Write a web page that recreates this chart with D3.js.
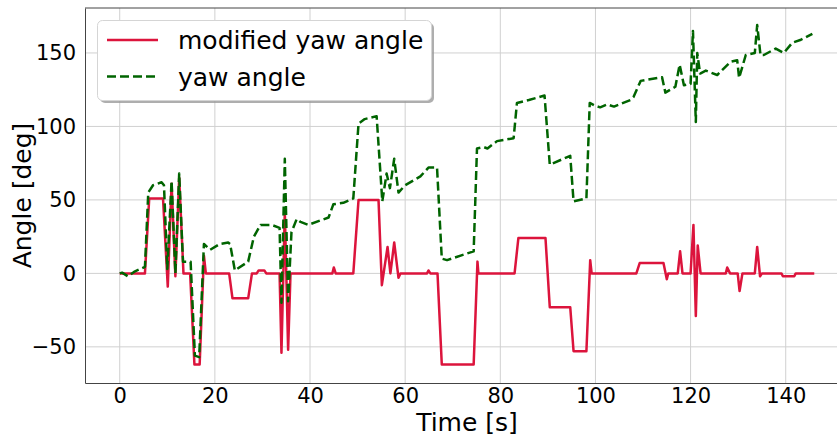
<!DOCTYPE html>
<html>
<head>
<meta charset="utf-8">
<script src="https://cdn.jsdelivr.net/npm/d3@7"></script>
<style>
  html, body { margin: 0; padding: 0; background: #fff; }
  svg { display: block; font-family: "DejaVu Sans", sans-serif; }
</style>
</head>
<body>
<svg id="chart" width="837" height="437"></svg>
<script>
// Modified yaw angle (deg) over time (s)
const modTime = [0, 5.3, 6.2, 9.1, 10.1, 10.9, 11.7, 12.5, 13.4, 14.8, 15.7, 16.8, 17.7, 18.1,
  23, 23.7, 27, 27.8, 28.8, 29.2, 30.4, 30.8, 33.6, 34.0, 34.7, 35.4, 35.9,
  44.7, 45, 45.4, 49.1, 50.2, 54.4, 55.1, 56.3, 56.9, 57.7, 58.6, 59,
  64.6, 64.9, 65.3, 66.8, 67.7, 74.4, 75.2, 75.4, 83, 83.8, 89.5, 90.4, 94.7, 95.4, 98.1, 98.9, 99.2,
  108.6, 109.3, 114.3, 115, 115.3, 117.3, 117.8, 118.3, 120, 120.6, 121.1, 121.5, 122.1,
  127.4, 127.7, 128.3, 129.9, 130.3, 130.9, 133.5, 134, 134.6, 135, 139.1, 139.4, 141.8, 142.1, 146];
const modAngle = [0, 0, 51, 51, -9, 61, -2, 65, 0, 0, -62, -62, 12, 0,
  0, -17, -17, 0, 0, 2, 2, 0, 0, -54, 42, -52, 0,
  0, 4, 0, 0, 50, 50, -8, 18, 0, 21, -3, 0,
  0, 2, 0, 0, -62, -62, 8, 0, 0, 24, 24, -23, -23, -53, -53, 9, 0,
  0, 7, 7, -4, 0, 0, 15, 0, 0, 33, -29, 19, 0,
  0, 4, 0, 0, -12, 0, 0, 18, -2, 0, 0, -2, -2, 0, 0];

// Raw yaw angle (deg) over time (s)
const yawTime = [0, 0.5, 1.7, 3, 5.3, 6, 7, 8.8, 9.3, 10.0, 10.9, 11.7, 12.5, 13.3, 14.9, 15.8, 16.7, 17.7, 19, 21, 22.8,
  23.2, 24.2, 27, 28.2, 29.6, 31.9, 33.6, 34.0, 34.7, 35.4, 36.1, 37.2, 38, 39.6, 43.9, 44.9, 47, 49.1,
  50.2, 51.5, 54, 55.2, 56.1, 56.8, 57.7, 58.6, 60, 63.2, 64.9, 66.7, 67.7, 68.8, 74.4,
  75.1, 76.5, 77.3, 79.3, 82.8, 83.5, 86, 89.3, 90.4, 94.7, 95.4, 98.1, 98.8, 100, 101, 102.5, 103.9,
  107.4, 108, 109.5, 114, 114.7, 116.8, 117.7, 118.6, 120, 120.5, 121.1, 121.4, 122, 123.2, 125.6,
  128.4, 129.8, 130.2, 131.6, 133.5, 134, 134.7, 135.4, 137.9, 139.6, 141.4, 143.2, 145.6];
const yawAngle = [0, 0.5, -2, 1, 4.5, 55, 60, 62, 60, 3, 63, 0, 68, 8, 8, -56, -57, 20, 16, 20, 21,
  20, 2, 8, 25, 33, 33, 31, -20, 78, -19, 28, 37, 35, 33, 38, 47, 48, 51,
  102, 105, 107, 49, 68, 58, 78, 55, 60, 66, 72, 72, 10, 9, 15,
  85, 86, 85, 90, 92, 116, 118, 121, 74, 80, 49, 51, 116, 114, 113, 115, 113.5,
  118, 120, 131, 133.5, 123, 127, 142, 128, 129, 165, 103, 150, 136, 138, 135,
  144, 145, 133, 148.6, 150, 169, 148.6, 148.6, 153, 150, 157, 159, 163];

const xTicks = [0, 20, 40, 60, 80, 100, 120, 140];
const yTicks = [-50, 0, 50, 100, 150];
const legendLabels = ["modified yaw angle", "yaw angle"];

const svg = d3.select("#chart");
const plotLeft = 85, plotTop = 8, plotBottom = 383, plotRight = 849;

const x = d3.scaleLinear().domain([-7.3, 153.3]).range([plotLeft, plotRight]);
const y = d3.scaleLinear().domain([-74.6, 180.6]).range([plotBottom, plotTop]);

svg.append("defs").append("clipPath").attr("id", "plotClip")
  .append("rect").attr("x", plotLeft).attr("y", plotTop)
  .attr("width", plotRight - plotLeft).attr("height", plotBottom - plotTop);

// Grid lines
const grid = svg.append("g");
grid.selectAll(".vg").data(xTicks).join("line")
  .attr("x1", d => x(d)).attr("x2", d => x(d))
  .attr("y1", plotTop).attr("y2", plotBottom)
  .attr("stroke", "#d0d0d0").attr("stroke-width", 1);
grid.selectAll(".hg").data(yTicks).join("line")
  .attr("x1", plotLeft).attr("x2", plotRight)
  .attr("y1", d => y(d)).attr("y2", d => y(d))
  .attr("stroke", "#d0d0d0").attr("stroke-width", 1);

// Series lines
const plot = svg.append("g").attr("clip-path", "url(#plotClip)");
const modLine = d3.line().x((d, i) => x(modTime[i])).y(d => y(d));
const yawLine = d3.line().x((d, i) => x(yawTime[i])).y(d => y(d));

plot.append("path").datum(modAngle)
  .attr("d", modLine)
  .attr("fill", "none").attr("stroke", "#dc143c")
  .attr("stroke-width", 2.5).attr("stroke-linejoin", "round");
plot.append("path").datum(yawAngle)
  .attr("d", yawLine)
  .attr("fill", "none").attr("stroke", "#006400")
  .attr("stroke-width", 2.5).attr("stroke-dasharray", "9,4")
  .attr("stroke-linejoin", "round");

// Axes
const xAxis = d3.axisBottom(x).tickValues(xTicks).tickSize(0).tickPadding(5);
const yAxis = d3.axisLeft(y).tickValues(yTicks).tickSize(0).tickPadding(9)
  .tickFormat(d => d < 0 ? "\u2212" + Math.abs(d) : d);

const gx = svg.append("g").attr("transform", `translate(0,${plotBottom})`).call(xAxis);
const gy = svg.append("g").attr("transform", `translate(${plotLeft},0)`).call(yAxis);
[gx, gy].forEach(g => {
  g.select(".domain").attr("stroke", "#444").attr("stroke-width", 1);
  g.selectAll("text").attr("font-size", 21).attr("fill", "#000")
    .attr("font-family", "DejaVu Sans, sans-serif");
});
// Top and right spines
svg.append("line").attr("x1", plotLeft).attr("x2", plotRight).attr("y1", plotTop).attr("y2", plotTop)
  .attr("stroke", "#444").attr("stroke-width", 1);
svg.append("line").attr("x1", plotRight).attr("x2", plotRight).attr("y1", plotTop).attr("y2", plotBottom)
  .attr("stroke", "#444").attr("stroke-width", 1);

// Axis titles
svg.append("text").attr("x", (plotLeft + plotRight) / 2).attr("y", 431)
  .attr("text-anchor", "middle").attr("font-size", 25).text("Time [s]");
svg.append("text")
  .attr("transform", `translate(31,${(plotTop + plotBottom) / 2}) rotate(-90)`)
  .attr("text-anchor", "middle").attr("font-size", 25).text("Angle [deg]");

// Legend
const lg = svg.append("g");
lg.append("rect").attr("x", 100).attr("y", 23).attr("width", 334).attr("height", 80)
  .attr("rx", 5).attr("fill", "#9a9a9a").attr("opacity", 0.8);
lg.append("rect").attr("x", 97.5).attr("y", 20.5).attr("width", 334).attr("height", 80)
  .attr("rx", 5).attr("fill", "#fff").attr("stroke", "#d5d5d5").attr("stroke-width", 1);
const legendStyles = [
  { color: "#dc143c", dash: null },
  { color: "#006400", dash: "9,4" }
];
legendLabels.forEach((lab, i) => {
  const cy = 40 + i * 36.5;
  lg.append("line").attr("x1", 107).attr("x2", 158).attr("y1", cy).attr("y2", cy)
    .attr("stroke", legendStyles[i].color).attr("stroke-width", 2.5)
    .attr("stroke-dasharray", legendStyles[i].dash);
  lg.append("text").attr("x", 178).attr("y", cy + 9).attr("font-size", 25)
    .attr("fill", "#000").text(lab);
});
</script>
</body>
</html>
